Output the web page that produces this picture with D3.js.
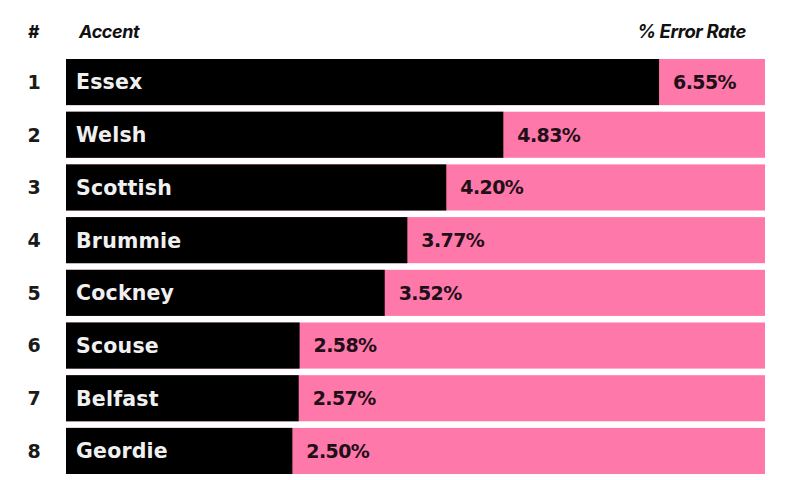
<!DOCTYPE html>
<html><head><meta charset="utf-8">
<script src="https://cdn.jsdelivr.net/npm/d3@7"></script>
<style>body{margin:0;background:#fff}svg{display:block}</style>
</head><body>
<script>
const ranks = ["1","2","3","4","5","6","7","8"];
const accents = ["Essex","Welsh","Scottish","Brummie","Cockney","Scouse","Belfast","Geordie"];
const errorRates = [6.55,4.83,4.20,3.77,3.52,2.58,2.57,2.50];
const headers = ["#","Accent","% Error Rate"];

const W=800,H=480;
const svg=d3.select("body").append("svg").attr("width",W).attr("height",H);
const font="Inter, 'DejaVu Sans', sans-serif";
const wide="'DejaVu Sans', sans-serif";
const x=d3.scaleLinear().domain([0,7.72]).range([66,765]);
const y=d3.scaleBand().domain(accents).range([59,474]).paddingInner(0.125);

// header
svg.append("text").attr("x",28).attr("y",38).text(headers[0])
  .attr("font-family",font).attr("font-weight",800).attr("font-style","italic").attr("font-size",17).attr("fill","#111").attr("letter-spacing","-1");
svg.append("text").attr("x",79).attr("y",38).text(headers[1])
  .attr("font-family",font).attr("font-weight",700).attr("font-style","italic").attr("font-size",18).attr("fill","#111").attr("letter-spacing","-0.4");
svg.append("text").attr("x",746).attr("y",38).attr("text-anchor","end").text(headers[2])
  .attr("font-family",font).attr("font-weight",700).attr("font-style","italic").attr("font-size",18.5).attr("fill","#111").attr("letter-spacing","-0.4");

const rows=svg.selectAll("g.row").data(accents).join("g").attr("class","row");
rows.append("rect").attr("x",x(0)).attr("y",d=>y(d)).attr("width",x.range()[1]-x(0)).attr("height",y.bandwidth()).attr("fill","#ff78aa");
rows.append("rect").attr("x",x(0)).attr("y",d=>y(d)).attr("width",(d,i)=>x(errorRates[i])-x(0)).attr("height",y.bandwidth()).attr("fill","#000");
rows.append("text").attr("x",34).attr("y",d=>y(d)+y.bandwidth()/2).attr("dy","0.36em").attr("text-anchor","middle")
  .text((d,i)=>ranks[i]).attr("font-family",wide).attr("font-weight",700).attr("font-size",19).attr("fill","#1a1a1a");
rows.append("text").attr("x",x(0)+10).attr("y",d=>y(d)+y.bandwidth()/2).attr("dy","0.36em")
  .text(d=>d).attr("font-family",wide).attr("font-weight",700).attr("font-size",20.5).attr("fill","#f0f0f0").attr("letter-spacing","0.2");
rows.append("text").attr("x",(d,i)=>x(errorRates[i])+14).attr("y",d=>y(d)+y.bandwidth()/2).attr("dy","0.36em")
  .text((d,i)=>errorRates[i].toFixed(2)+"%").attr("font-family",wide).attr("font-weight",700).attr("font-size",19).attr("fill","#1f0f18").attr("letter-spacing","-0.6");
</script>
</body></html>
